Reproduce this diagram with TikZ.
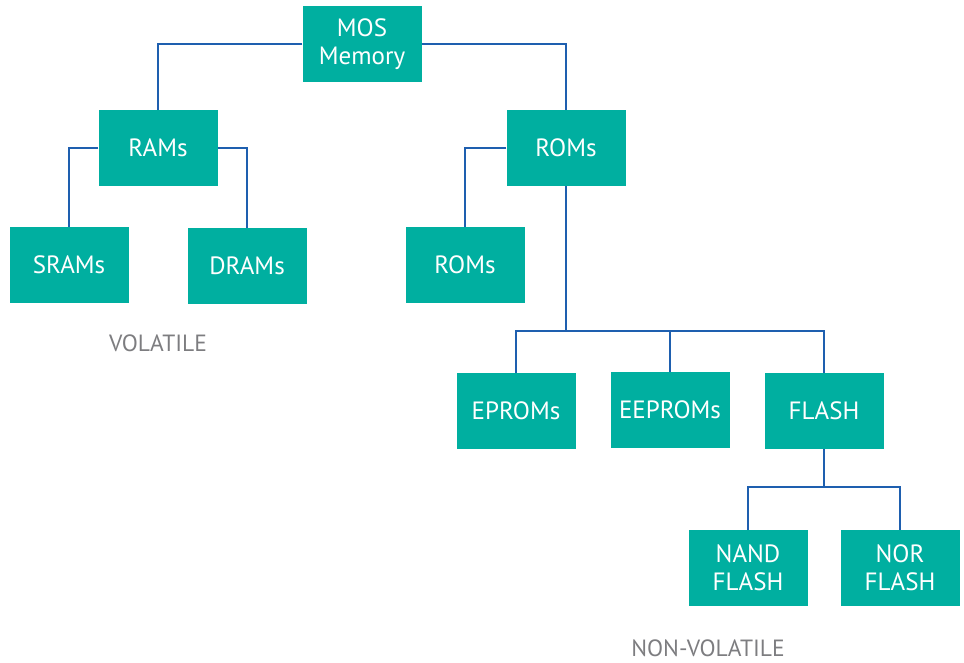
\documentclass[tikz,border=0pt]{standalone}
\usepackage{fontspec}
\setmainfont{PT Sans}
\definecolor{boxteal}{RGB}{0,175,160}
\definecolor{linkblue}{RGB}{30,95,175}
\definecolor{labelgray}{RGB}{125,125,128}
\begin{document}
\begin{tikzpicture}[x=1pt,y=-1pt,
  membox/.style={rectangle, fill=boxteal, text=white, minimum width=119pt,
    minimum height=76pt, inner sep=0pt, align=center,
    font=\fontsize{25}{28}\selectfont},
  link/.style={draw=linkblue, line width=2pt},
  grouplabel/.style={text=labelgray, font=\fontsize{23.5}{26}\selectfont}]
\useasboundingbox (0,0) rectangle (964,662);
% memory hierarchy boxes
\node[membox] (mos)    at (362,44)  {MOS\\Memory};
\node[membox] (rams)   at (158,148) {RAMs};
\node[membox] (roms)   at (566,148) {ROMs};
\node[membox] (sram)   at (69,265)  {SRAMs};
\node[membox] (dram)   at (247,266) {DRAMs};
\node[membox] (rom)    at (465,265) {ROMs};
\node[membox] (eprom)  at (516,411) {EPROMs};
\node[membox] (eeprom) at (670,410) {EEPROMs};
\node[membox] (flash)  at (824,411) {FLASH};
\node[membox] (nand)   at (748,568) {NAND\\FLASH};
\node[membox] (nor)    at (900,568) {NOR\\FLASH};
% group labels
\node[grouplabel] (vol)    at (158,343) {VOLATILE};
\node[grouplabel] (nonvol) at (708,648) {NON-VOLATILE};
% bus junctions
\coordinate (rombus)   at (566,331);
\coordinate (flashbus) at (824,487);
% connectors
\draw[link] (mos.west) -| (rams.north);
\draw[link] (mos.east) -| (roms.north);
\draw[link] (rams.west) -| (sram.north);
\draw[link] (rams.east) -| (dram.north);
\draw[link] (roms.west) -| (rom.north);
\draw[link] (roms.south) -- (rombus);
\draw[link] (rombus) -| (eprom.north);
\draw[link] (rombus) -| (flash.north);
\draw[link] (eeprom.north) -- (eeprom.north |- rombus);
\draw[link] (flash.south) -- (flashbus);
\draw[link] (flashbus) -| (nand.north);
\draw[link] (flashbus) -| (nor.north);
\end{tikzpicture}
\end{document}
